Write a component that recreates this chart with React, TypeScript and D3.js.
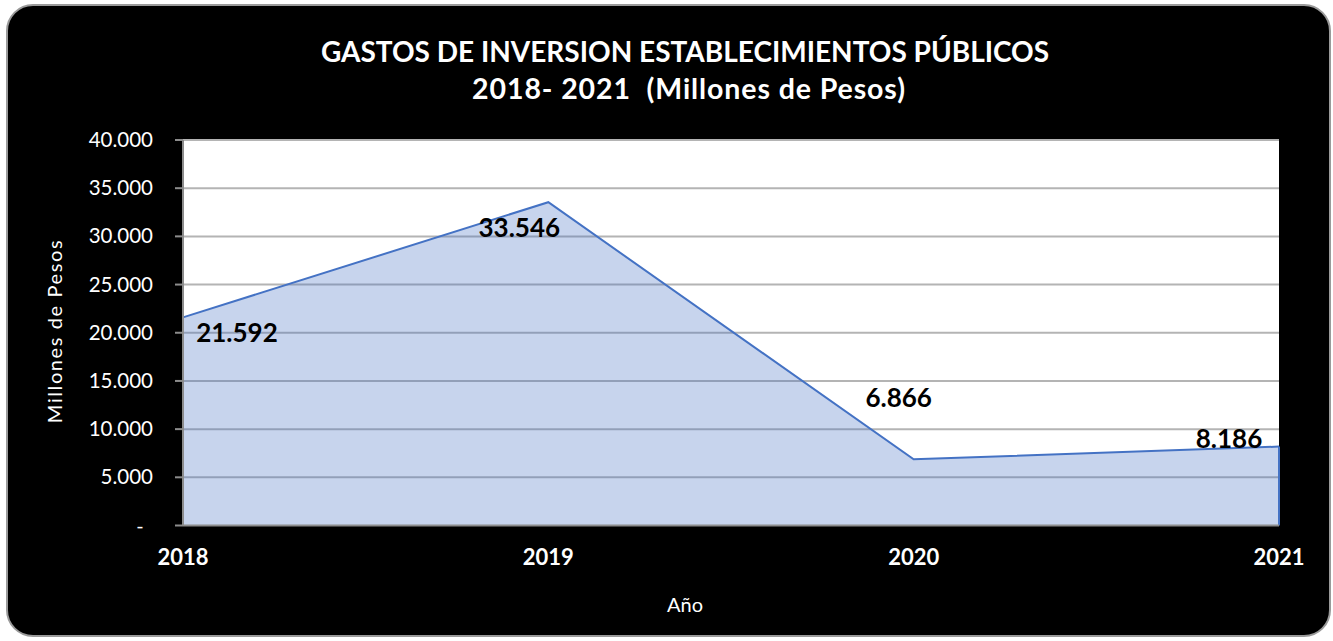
import React from "react";
import * as d3 from "d3";

const years = ["2018", "2019", "2020", "2021"];
const values = [21592, 33546, 6866, 8186];
const yTicks = [0, 5000, 10000, 15000, 20000, 25000, 30000, 35000, 40000];
const titleLines = ["GASTOS DE INVERSION ESTABLECIMIENTOS PÚBLICOS", "2018- 2021  (Millones de Pesos)"];
const yTitle = "Millones de Pesos";
const xTitle = "Año";

// label placement offsets (layout, not data)
const labelOffsets = [
  [54, 25],
  [-29, 35],
  [-15, -52],
  [-50, 1],
];

const W = 1333;
const H = 641;
const M = { left: 183, right: 1279, top: 140, bottom: 525.5 };
const FONT = "Lato, 'Open Sans', sans-serif";

const locale = d3.formatLocale({ decimal: ",", thousands: ".", grouping: [3], currency: ["$", ""] });
const fmt = locale.format(",.0f");

export default function App() {
  const x = d3.scalePoint<string>().domain(years).range([M.left, M.right]);
  const y = d3.scaleLinear().domain([0, 40000]).range([M.bottom, M.top]);
  const pts = years.map((yr, i) => [x(yr) as number, y(values[i])] as [number, number]);
  const area = d3
    .area<[number, number]>()
    .x((d) => d[0])
    .y0(y(0))
    .y1((d) => d[1]);
  const line = d3.line<[number, number]>().x((d) => d[0]).y((d) => d[1]);

  return (
    <svg
      width={W}
      height={H}
      style={{ position: "absolute", left: 0, top: 0, background: "#fff" }}
      fontFamily={FONT}
    >
      <rect x={7} y={5} width={1323} height={631} rx={26} ry={26} fill="#000" stroke="#9a9a9a" strokeWidth={2} />
      <text x={685} y={62} textAnchor="middle" fill="#fff" fontWeight="bold" fontSize={28}>
        {titleLines[0]}
      </text>
      <text
        x={689}
        y={99}
        textAnchor="middle"
        fill="#fff"
        fontWeight="bold"
        fontSize={28.5}
        letterSpacing={0.9}
        style={{ whiteSpace: "pre" }}
      >
        {titleLines[1]}
      </text>

      <rect x={M.left} y={M.top} width={M.right - M.left} height={M.bottom - M.top} fill="#fff" />
      {yTicks.slice(1).map((t) => (
        <line key={t} x1={M.left} x2={M.right} y1={y(t)} y2={y(t)} stroke="#b4b4b4" strokeWidth={2} />
      ))}
      <path d={area(pts) || ""} fill="#4472C4" fillOpacity={0.3} />
      <path
        d={`M${pts[pts.length - 1][0]},${y(0)}V${pts[pts.length - 1][1]}`}
        stroke="#4472C4"
        strokeWidth={2}
        fill="none"
      />
      <path d={line(pts) || ""} stroke="#4472C4" strokeWidth={2} fill="none" />

      {/* axes */}
      <line x1={M.left} x2={M.left} y1={M.top} y2={M.bottom} stroke="#8c8c8c" strokeWidth={2} />
      <line x1={M.left} x2={M.right} y1={M.bottom} y2={M.bottom} stroke="#8c8c8c" strokeWidth={2} />
      {yTicks.map((t) => (
        <g key={t}>
          <line x1={M.left - 8} x2={M.left} y1={y(t)} y2={y(t)} stroke="#8c8c8c" strokeWidth={2} />
          {t === 0 ? (
            <text x={140} y={y(t) + 7} textAnchor="middle" fill="#fff" fontSize={20}>
              -
            </text>
          ) : (
            <text x={153} y={y(t) + 7} textAnchor="end" fill="#fff" fontSize={20.5}>
              {fmt(t)}
            </text>
          )}
        </g>
      ))}
      {years.map((yr) => (
        <text key={yr} x={x(yr)} y={565} textAnchor="middle" fill="#fff" fontWeight="bold" fontSize={22}>
          {yr}
        </text>
      ))}
      <text x={685} y={612} textAnchor="middle" fill="#fff" fontSize={20}>
        {xTitle}
      </text>
      <text
        transform={`translate(62,331) rotate(-90)`}
        textAnchor="middle"
        fill="#fff"
        fontSize={20}
        letterSpacing={1.6}
      >
        {yTitle}
      </text>

      {pts.map((p, i) => (
        <text
          key={i}
          x={p[0] + labelOffsets[i][0]}
          y={p[1] + labelOffsets[i][1]}
          textAnchor="middle"
          fill="#000"
          fontWeight="bold"
          fontSize={26}
        >
          {fmt(values[i])}
        </text>
      ))}
    </svg>
  );
}
